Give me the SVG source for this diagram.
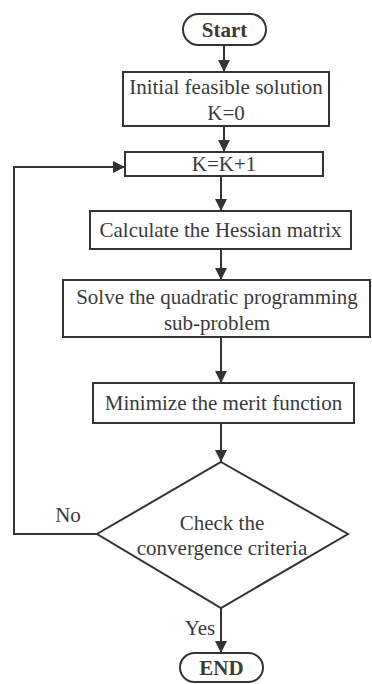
<svg xmlns="http://www.w3.org/2000/svg" width="372" height="684" viewBox="0 0 372 684">
<style>
.b{fill:#fff;stroke:#333;stroke-width:2}
.t{font-family:"Liberation Serif","Times New Roman",serif;font-size:21px;fill:#3a3a3a;text-anchor:middle;dominant-baseline:central}
.bold{font-weight:bold}
.c{fill:none;stroke:#333;stroke-width:2}
</style>
<defs>
<marker id="a" viewBox="0 0 10 10" refX="10" refY="5" markerWidth="6" markerHeight="6" orient="auto" markerUnits="strokeWidth">
<path d="M0,0L10,5L0,10z" fill="#333"/>
</marker>
</defs>
<rect width="372" height="684" fill="#fff"/>
<g id="connectors">
<line class="c" x1="224" y1="45" x2="224" y2="72" marker-end="url(#a)"/>
<line class="c" x1="224" y1="126" x2="224" y2="152" marker-end="url(#a)"/>
<line class="c" x1="221" y1="176" x2="221" y2="211" marker-end="url(#a)"/>
<line class="c" x1="221" y1="249" x2="221" y2="280" marker-end="url(#a)"/>
<line class="c" x1="221" y1="337" x2="221" y2="383" marker-end="url(#a)"/>
<line class="c" x1="221" y1="423" x2="221" y2="462" marker-end="url(#a)"/>
<line class="c" x1="221" y1="608" x2="221" y2="653" marker-end="url(#a)"/>
<polyline class="c" points="97,534 14,534 14,167 125,167" marker-end="url(#a)"/>
<text class="t" x="68" y="515">No</text>
<text class="t" x="200" y="628">Yes</text>
</g>
<g id="start">
<rect class="b" x="183" y="14" width="83" height="31" rx="15.5"/>
<text class="t bold" x="224.5" y="30">Start</text>
</g>
<g id="init">
<rect class="b" x="123" y="72" width="206" height="54"/>
<text class="t" x="226" y="87">Initial feasible solution</text>
<text class="t" x="226" y="113">K=0</text>
</g>
<g id="kinc">
<rect class="b" x="125" y="152" width="198" height="24"/>
<text class="t" x="224" y="164">K=K+1</text>
</g>
<g id="hessian">
<rect class="b" x="90" y="211" width="261" height="38"/>
<text class="t" x="220.5" y="230">Calculate the Hessian matrix</text>
</g>
<g id="qp">
<rect class="b" x="63" y="280" width="307" height="57"/>
<text class="t" x="217" y="297">Solve the quadratic programming</text>
<text class="t" x="217" y="323">sub-problem</text>
</g>
<g id="merit">
<rect class="b" x="93" y="383" width="261" height="40"/>
<text class="t" x="223.5" y="403">Minimize the merit function</text>
</g>
<g id="check">
<polygon class="b" points="221,462 348,534 221,608 97,534"/>
<text class="t" x="222" y="523">Check the</text>
<text class="t" x="222" y="548">convergence criteria</text>
</g>
<g id="end">
<rect class="b" x="180" y="653" width="83" height="29" rx="14.5"/>
<text class="t bold" x="221.5" y="668">END</text>
</g>
</svg>
